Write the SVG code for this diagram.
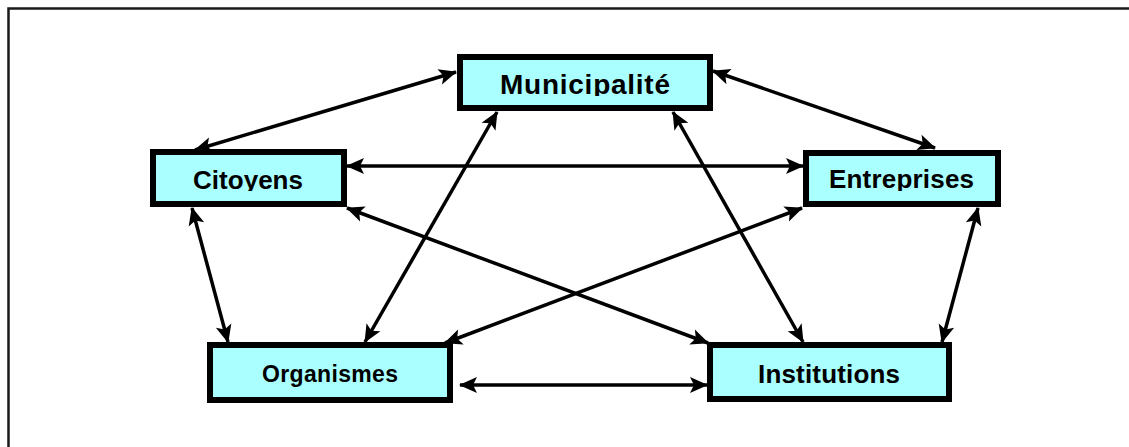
<svg xmlns="http://www.w3.org/2000/svg" width="1129" height="447" viewBox="0 0 1129 447">
<style>
.box{fill:#AAFFFF;stroke:#000;stroke-width:6}
.lbl{font-family:"Liberation Sans",Arial,sans-serif;font-weight:bold;fill:#000}
.con{stroke:#000;stroke-width:3.5;fill:none;marker-start:url(#ah);marker-end:url(#ah)}
</style>
<defs>
<marker id="ah" markerUnits="userSpaceOnUse" markerWidth="18" markerHeight="16" refX="17" refY="8" orient="auto-start-reverse" overflow="visible">
<path d="M0,0 L18,8 L0,16 L4,8 z" fill="#000"/>
</marker>
<clipPath id="cM"><rect x="457" y="54" width="256" height="42"/></clipPath>
<clipPath id="cC"><rect x="150" y="149" width="197" height="42"/></clipPath>
<clipPath id="cE"><rect x="803" y="150" width="198" height="41"/></clipPath>
</defs>
<rect x="8.5" y="8.5" width="1200" height="500" fill="none" stroke="#1a1a1a" stroke-width="2.5"/>
<g id="connectors">
<line class="con" x1="195" y1="150" x2="456" y2="72"/>
<line class="con" x1="713" y1="71" x2="935" y2="148"/>
<line class="con" x1="347" y1="166" x2="803" y2="166"/>
<line class="con" x1="192" y1="208" x2="228" y2="342"/>
<line class="con" x1="978" y1="208" x2="942" y2="342"/>
<line class="con" x1="497" y1="112" x2="365" y2="342"/>
<line class="con" x1="673" y1="112" x2="803" y2="342"/>
<line class="con" x1="347" y1="208" x2="708" y2="343"/>
<line class="con" x1="802" y1="208" x2="445" y2="343"/>
<line class="con" x1="460" y1="385" x2="707" y2="385"/>
</g>
<g id="municipalite">
<rect class="box" x="460" y="57" width="250" height="51"/>
<text class="lbl" x="500" y="94" font-size="28" textLength="170" clip-path="url(#cM)">Municipalité</text>
</g>
<g id="citoyens">
<rect class="box" x="153" y="152" width="191" height="52"/>
<text class="lbl" x="193" y="189" font-size="26" textLength="110" clip-path="url(#cC)">Citoyens</text>
</g>
<g id="entreprises">
<rect class="box" x="806" y="153" width="192" height="51"/>
<text class="lbl" x="829" y="188" font-size="26" textLength="145" clip-path="url(#cE)">Entreprises</text>
</g>
<g id="organismes">
<rect class="box" x="210" y="345" width="240" height="55"/>
<text class="lbl" x="262" y="382" font-size="23" textLength="136">Organismes</text>
</g>
<g id="institutions">
<rect class="box" x="710" y="345" width="239" height="54"/>
<text class="lbl" x="758" y="383" font-size="26" textLength="142">Institutions</text>
</g>
</svg>
